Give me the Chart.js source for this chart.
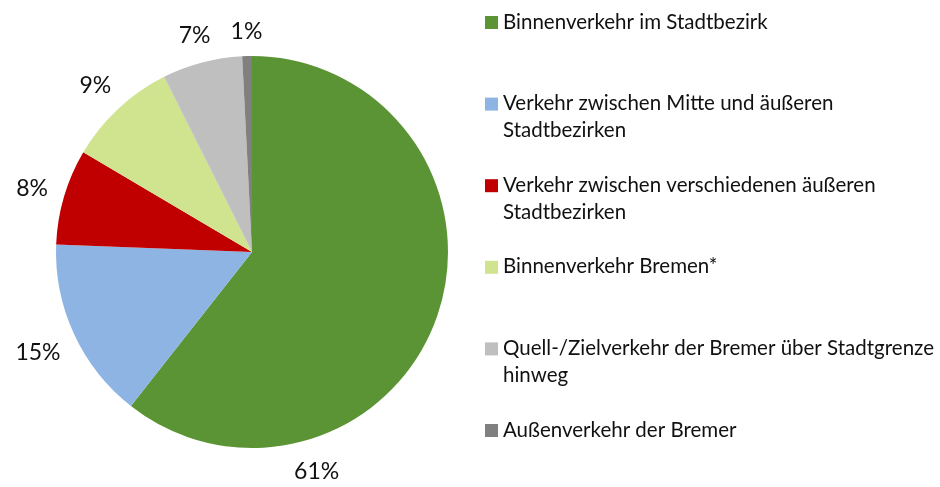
<!DOCTYPE html>
<html>
<head>
<meta charset="utf-8">
<script src="https://cdn.jsdelivr.net/npm/chart.js@4/dist/chart.umd.min.js"></script>
<style>
  html, body { margin: 0; padding: 0; background: #ffffff; }
  #wrap { width: 940px; height: 487px; position: relative; }
</style>
</head>
<body>
<div id="wrap"><canvas id="c" width="940" height="487"></canvas></div>
<script>
// ---- data ----
const categories = [
  ["Binnenverkehr im Stadtbezirk"],
  ["Verkehr zwischen Mitte und äußeren", "Stadtbezirken"],
  ["Verkehr zwischen verschiedenen äußeren", "Stadtbezirken"],
  ["Binnenverkehr Bremen*"],
  ["Quell-/Zielverkehr der Bremer über Stadtgrenze", "hinweg"],
  ["Außenverkehr der Bremer"]
];
const shares = [60.6, 15.0, 7.9, 9.1, 6.6, 0.8];
const colors = ["#5B9434", "#8EB4E3", "#C00000", "#D0E38E", "#BFBFBF", "#808080"];

const FONT = "Lato, 'Open Sans', sans-serif";

const outsideLabels = {
  id: 'outsideLabels',
  afterDatasetsDraw(chart, args, opts) {
    const ctx = chart.ctx;
    const meta = chart.getDatasetMeta(0);
    ctx.save();
    ctx.font = "23px " + FONT;
    ctx.fillStyle = "#111111";
    ctx.textAlign = "center";
    ctx.textBaseline = "middle";
    meta.data.forEach((arc, i) => {
      const p = arc.getProps(['x', 'y', 'startAngle', 'endAngle', 'outerRadius'], true);
      let ang = (p.startAngle + p.endAngle) / 2;
      if (opts.angleOverride && opts.angleOverride[i] !== undefined) {
        ang = (opts.angleOverride[i] - 90) * Math.PI / 180;
      }
      const txt = Math.round(shares[i]) + "%";
      const w = ctx.measureText(txt).width;
      const h = 21;
      const cx = Math.cos(ang), sy = Math.sin(ang);
      const half = Math.abs(cx) * w / 2 + Math.abs(sy) * h / 2;
      const d = p.outerRadius + opts.gap + half;
      ctx.fillText(txt, p.x + cx * d, p.y + sy * d + 1);
    });
    ctx.restore();
  }
};

const sideLegend = {
  id: 'sideLegend',
  afterDraw(chart, args, opts) {
    const ctx = chart.ctx;
    ctx.save();
    ctx.font = "20.5px " + FONT;
    ctx.textBaseline = "middle";
    ctx.textAlign = "left";
    categories.forEach((lines, i) => {
      const y = opts.top + i * opts.step;
      ctx.fillStyle = colors[i];
      ctx.fillRect(opts.x, y - 6, 13, 13);
      ctx.fillStyle = "#111111";
      lines.forEach((ln, j) => {
        ctx.fillText(ln, opts.x + 18, y + j * opts.lineH);
      });
    });
    ctx.restore();
  }
};

new Chart(document.getElementById('c'), {
  type: 'pie',
  data: {
    labels: categories.map(l => l.join(' ')),
    datasets: [{
      data: shares,
      backgroundColor: colors,
      borderWidth: 0
    }]
  },
  options: {
    responsive: false,
    animation: false,
    layout: { padding: { left: 56, right: 492, top: 56, bottom: 39 } },
    plugins: {
      legend: { display: false },
      tooltip: { enabled: false },
      outsideLabels: { gap: 15, angleOverride: { 0: 163.5 } },
      sideLegend: { x: 485, top: 22, step: 81.6, lineH: 27 }
    }
  },
  plugins: [outsideLabels, sideLegend]
});
</script>
</body>
</html>
